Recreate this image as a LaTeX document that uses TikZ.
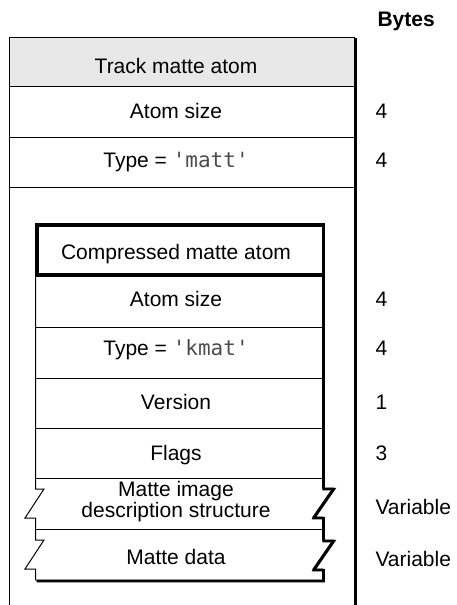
\documentclass[tikz,border=0pt]{standalone}
\usepackage{fontspec}
\setmainfont{Liberation Sans}
\setmonofont{DejaVu Sans Mono}

\begin{document}
\begin{tikzpicture}[x=1pt,y=-1pt,  % one unit per pixel, y running down
    field/.style={anchor=base, align=center, font=\fontsize{21}{19}\selectfont},
    size/.style={anchor=base west, font=\fontsize{21}{19}\selectfont}]
    \useasboundingbox (0,0) rectangle (457,605);

    % Outer atom: grey header, frame open at the bottom
    \fill[gray!18] (9,37) rectangle (354,86);
    \draw[line width=1pt] (9,605) -- (9,37) -- (354,37) -- (354,605);
    \draw[line width=2pt] (355.5,38) -- (355.5,605);
    \foreach \y in {86,137,187}
        \draw[line width=1pt] (9,\y) -- (354,\y);

    % Inner atom: heavy header box
    \draw[line width=3.5pt] (37,225) rectangle (323.5,275);

    % Inner atom body, torn at the two variable fields
    \draw[line width=1pt] (35.5,276) -- (35.5,489) -- (44,489) -- (25,518) -- (35.5,518)
        -- (35.5,540) -- (44,540) -- (25,569) -- (35.5,569) -- (35.5,580);
    \foreach \d/\w in {0/1, 1/2.5}
        \draw[line width=\w pt, shift={(\d,\d)}] (322.5,276) -- (322.5,488) -- (333,488)
            -- (313,517) -- (322.5,517) -- (322.5,540) -- (333,540) -- (313,569)
            -- (322.5,569) -- (322.5,580) -- (35.5,580);
    \foreach \y in {327,378,428,478,529}
        \draw[line width=1pt] (35.5,\y) -- (322.5,\y);

    % Field names
    \node[field] (track) at (176,73) {Track matte atom};
    \node[field] (tsize) at (176,118) {Atom size};
    \node[field] (ttype) at (176,167) {Type = \texttt{\textcolor{black!70}{'matt'}}};
    \node[field] (kmat) at (176,259) {Compressed matte atom};
    \node[field] (ksize) at (176,306) {Atom size};
    \node[field] (ktype) at (176,355) {Type = \texttt{\textcolor{black!70}{'kmat'}}};
    \node[field] (kver) at (176,409) {Version};
    \node[field] (kflags) at (176,460) {Flags};
    \node[field] (kdesc) at (176,517) {Matte image\\description structure};
    \node[field] (kdata) at (176,564) {Matte data};

    % Byte counts
    \node[size, font=\fontsize{21}{19}\selectfont\bfseries] (bytes) at (374,27) {Bytes};
    \foreach \y/\n [count=\i] in {118/4, 167/4, 306/4, 355/4, 409/1, 460/3, 514/Variable, 566/Variable}
        \node[size] (b\i) at (372,\y) {\n};

\end{tikzpicture}
\end{document}
